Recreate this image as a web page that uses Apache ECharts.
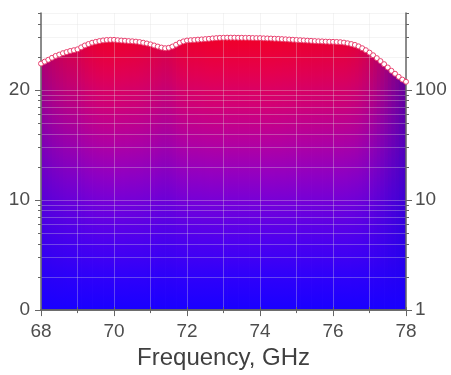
<!DOCTYPE html>
<html><head><meta charset="utf-8">
<script src="https://cdn.jsdelivr.net/npm/echarts@6/dist/echarts.min.js"></script>
<style>html,body{margin:0;padding:0;background:#fff}#c{width:451px;height:375px}</style>
</head><body><div id="c"></div>
<script>
// ---- data ----
const freqStart = 68, freqStep = 0.1;   // GHz, sampling of the measured curve
const gainDb = [
 22.40,22.58,22.75,22.93,23.10,23.22,23.35,23.45,23.55,23.62,
 23.70,23.88,24.05,24.18,24.30,24.38,24.45,24.51,24.55,24.56,
 24.56,24.53,24.50,24.48,24.45,24.43,24.40,24.36,24.30,24.23,
 24.15,24.05,23.95,23.86,23.80,23.84,23.95,24.12,24.30,24.42,
 24.50,24.53,24.55,24.58,24.60,24.63,24.65,24.69,24.72,24.74,
 24.75,24.76,24.76,24.76,24.75,24.75,24.74,24.74,24.73,24.72,
 24.72,24.70,24.69,24.68,24.66,24.65,24.63,24.61,24.59,24.57,
 24.55,24.53,24.51,24.49,24.47,24.45,24.43,24.42,24.40,24.39,
 24.38,24.37,24.35,24.31,24.25,24.18,24.10,23.97,23.80,23.62,
 23.40,23.16,22.90,22.63,22.35,22.05,21.75,21.48,21.20,20.95,
 20.75
];
const xTickLabels = [68,70,72,74,76,78];
const xTicksAll = [68,69,70,71,72,73,74,75,76,77,78];
const yTickLabels = [0,10,20];           // dB (left)
const rightTickLabels = ['1','10','100']; // linear ratio (right)
const logMinorMultipliers = [2,3,4,5,6,7,8,9];

// ---- derived ----
const freqs = gainDb.map((_, i) => +(freqStart + i * freqStep).toFixed(2));
const curve = freqs.map((f, i) => [f, gainDb[i]]);
const segs = [];
for (let i = 0; i < curve.length - 1; i++) segs.push([curve[i][0], curve[i][1], curve[i+1][0], curve[i+1][1]]);
const Y_MAX = 27;
const yTicksAll = [];
yTickLabels.forEach(d => {
  yTicksAll.push(d);
  logMinorMultipliers.forEach(m => { const v = d + 10 * Math.log10(m); if (v <= Y_MAX) yTicksAll.push(+v.toFixed(3)); });
});

function colAt(w, dark) {
  const bump = 1 + 0.22 * Math.sin(Math.PI * w);
  let r = (25 + 215 * w) * bump * dark;
  let b = (255 - 215 * w) * bump * dark;
  r = Math.min(255, Math.round(r)); b = Math.min(255, Math.round(b));
  return 'rgb(' + r + ',0,' + b + ')';
}
function makeStops(T) {
  const topT = Math.max(0, Math.min(1, (T - 20) / 4.7));
  const stops = [];
  for (let k = 0; k <= 8; k++) {
    const u = k / 8;
    const w = Math.pow(u, 1.15) * (0.3 + 0.7 * topT);
    const dark = 1 - 0.3 * (1 - topT) * u;
    stops.push({ offset: u, color: colAt(w, dark) });
  }
  return stops;
}

const axisColor = '#666';
const labelColor = '#4d4d4d';
const gridColor = 'rgba(220,220,220,0.32)';
const font = 'Liberation Sans, Arial, sans-serif';

const chart = echarts.init(document.getElementById('c'), null, { renderer: 'canvas' });
chart.setOption({
  animation: false,
  grid: { left: 41, right: 45, top: 13, bottom: 62 },
  xAxis: [
    { type: 'value', position: 'bottom', min: 68, max: 78, z: 5,
      axisLine: { show: true, lineStyle: { color: axisColor, width: 1.5 } },
      axisTick: { show: true, customValues: xTicksAll, length: 3, lineStyle: { color: axisColor } },
      axisLabel: { customValues: xTickLabels, fontSize: 19, color: labelColor, margin: 12, fontFamily: font },
      splitLine: { show: true, lineStyle: { color: gridColor, width: 1 } },
      name: 'Frequency, GHz', nameLocation: 'middle', nameGap: 28,
      nameTextStyle: { fontSize: 24, color: '#404040', fontFamily: font } },
    { type: 'value', position: 'bottom', min: 68, max: 78, z: 5,
      axisLine: { show: false },
      axisTick: { show: true, customValues: xTickLabels, length: 6, lineStyle: { color: axisColor } },
      axisLabel: { show: false }, splitLine: { show: false } },
    { type: 'value', position: 'top', min: 68, max: 78, z: 5,
      axisLine: { show: true, lineStyle: { color: axisColor, width: 1.5 } },
      axisTick: { show: true, customValues: xTicksAll, length: 3, lineStyle: { color: axisColor } },
      axisLabel: { show: false }, splitLine: { show: false } }
  ],
  yAxis: [
    { type: 'value', position: 'left', min: 0, max: Y_MAX, z: 5,
      axisLine: { show: true, lineStyle: { color: axisColor, width: 1.5 } },
      axisTick: { show: true, customValues: yTicksAll, length: 3, lineStyle: { color: axisColor } },
      axisLabel: { customValues: yTickLabels, fontSize: 19, color: labelColor, margin: 11, fontFamily: font },
      splitLine: { show: true, lineStyle: { color: gridColor, width: 1 } } },
    { type: 'value', position: 'left', min: 0, max: Y_MAX, z: 5,
      axisLine: { show: false },
      axisTick: { show: true, customValues: yTickLabels, length: 6, lineStyle: { color: axisColor } },
      axisLabel: { show: false }, splitLine: { show: false } },
    { type: 'value', position: 'right', min: 0, max: Y_MAX, z: 5,
      axisLine: { show: true, lineStyle: { color: axisColor, width: 1.5 } },
      axisTick: { show: true, customValues: yTicksAll, length: 3, lineStyle: { color: axisColor } },
      axisLabel: { customValues: yTickLabels, fontSize: 19, color: labelColor, margin: 9, fontFamily: font,
        formatter: v => rightTickLabels[yTickLabels.indexOf(Math.round(v))] || '' },
      splitLine: { show: false } },
    { type: 'value', position: 'right', min: 0, max: Y_MAX, z: 5,
      axisLine: { show: false },
      axisTick: { show: true, customValues: yTickLabels, length: 6, lineStyle: { color: axisColor } },
      axisLabel: { show: false }, splitLine: { show: false } }
  ],
  series: [
    { type: 'custom', xAxisIndex: 0, yAxisIndex: 0, z: 2, data: segs,
      encode: { x: [0, 2], y: [1, 3] },
      renderItem: function (params, api) {
        const f0 = api.value(0), g0 = api.value(1), f1 = api.value(2), g1 = api.value(3);
        const p0 = api.coord([f0, g0]), p1 = api.coord([f1, g1]);
        const b0 = api.coord([f0, 0]), b1 = api.coord([f1, 0]);
        const last = params.dataIndex === segs.length - 1;
        const ext = last ? 0 : 0.8;
        const T = (g0 + g1) / 2;
        const yt = api.coord([f0, T])[1];
        const grad = { type: 'linear', x: 0, y: b0[1], x2: 0, y2: yt, global: true, colorStops: makeStops(T) };
        return { type: 'polygon',
                 shape: { points: [b0, p0, [p1[0] + ext, p1[1]], [b1[0] + ext, b1[1]]] },
                 style: { fill: grad } };
      } },
    { type: 'line', xAxisIndex: 0, yAxisIndex: 0, z: 10, data: curve,
      symbol: 'circle', symbolSize: 5, showAllSymbol: true,
      lineStyle: { color: '#e8406e', width: 1.2 },
      itemStyle: { color: '#ffffff', borderColor: '#e8406e', borderWidth: 1 } }
  ]
});
</script></body></html>
